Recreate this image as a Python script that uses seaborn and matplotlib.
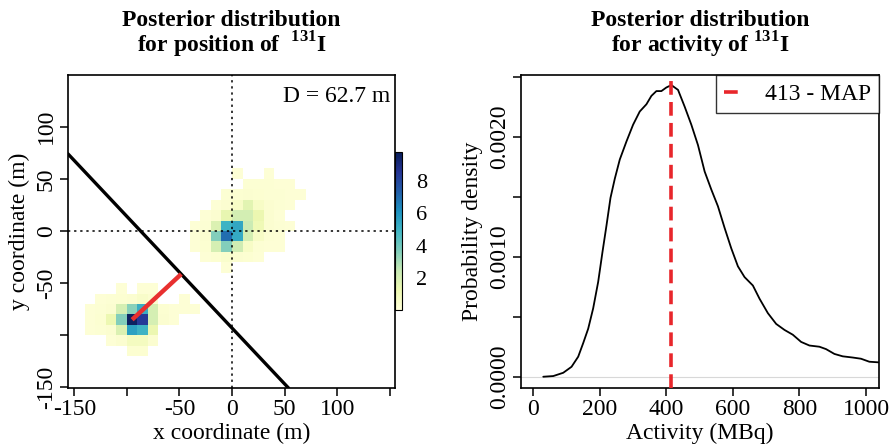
import numpy as np
import pandas as pd
import matplotlib
matplotlib.use("Agg")
import matplotlib.pyplot as plt
import seaborn as sns

# ---------------- data ----------------
cell_size = 10

# Posterior position histogram, cluster near origin (rows top -> bottom)
grid_a_x0 = -40      # lower x edge of first column
grid_a_ytop = 50     # lower y edge of top row
grid_a = [
    [0.0, 0.0, 0.0, 0.0, 0.15, 0.0, 0.0, 0.15, 0.0, 0.0, 0.0],
    [0.0, 0.0, 0.0, 0.0, 0.0, 0.2, 0.2, 0.2, 0.15, 0.15, 0.0],
    [0.0, 0.0, 0.0, 0.2, 0.25, 0.3, 0.25, 0.2, 0.2, 0.15, 0.15],
    [0.0, 0.0, 0.15, 0.3, 0.6, 1.6, 0.6, 0.3, 0.2, 0.15, 0.0],
    [0.0, 0.15, 0.3, 1.4, 2.1, 2.1, 1.3, 0.3, 0.15, 0.0, 0.0],
    [0.15, 0.2, 1.8, 5.0, 5.4, 2.3, 1.1, 0.3, 0.2, 0.15, 0.0],
    [0.15, 0.3, 3.6, 7.0, 5.3, 2.1, 0.6, 0.2, 0.15, 0.0, 0.0],
    [0.15, 0.25, 2.0, 3.6, 2.2, 0.6, 0.2, 0.15, 0.15, 0.0, 0.0],
    [0.0, 0.15, 0.25, 0.4, 0.3, 0.25, 0.15, 0.0, 0.0, 0.0, 0.0],
    [0.0, 0.0, 0.0, 0.15, 0.0, 0.0, 0.0, 0.0, 0.0, 0.0, 0.0],
]

# Posterior position histogram, lower-left cluster (rows top -> bottom)
grid_b_x0 = -140
grid_b_ytop = -60
grid_b = [
    [0.0, 0.0, 0.0, 0.15, 0.0, 0.15, 0.15, 0.0, 0.0, 0.0, 0.0],
    [0.0, 0.15, 0.2, 0.25, 0.3, 0.5, 0.3, 0.0, 0.0, 0.15, 0.0],
    [0.15, 0.2, 0.3, 2.0, 3.5, 5.2, 2.0, 0.25, 0.15, 0.15, 0.15],
    [0.15, 0.25, 1.2, 3.6, 9.6, 8.4, 2.0, 0.3, 0.15, 0.0, 0.0],
    [0.15, 0.2, 0.3, 1.8, 5.6, 5.0, 1.3, 0.0, 0.0, 0.0, 0.0],
    [0.0, 0.0, 0.15, 0.3, 0.8, 0.8, 0.3, 0.0, 0.0, 0.0, 0.0],
    [0.0, 0.0, 0.0, 0.0, 0.25, 0.25, 0.0, 0.0, 0.0, 0.0, 0.0],
]

colorbar_max = 9.8
colorbar_ticks = [2, 4, 6, 8]

# boundary line y = slope * x + intercept, MAP position, distance label
boundary_slope = -1.07
boundary_intercept = -93.0
map_position = (-95.0, -85.0)
distance_label = "D = 62.7 m"

x_ticks_pos = [-150, -100, -50, 0, 50, 100, 150]
x_tick_labels_pos = ["-150", "", "-50", "0", "50", "100", ""]
y_ticks_pos = [-150, -100, -50, 0, 50, 100]
y_tick_labels_pos = ["-150", "", "-50", "0", "50", "100"]

# Activity posterior density
activity_mbq = [30, 60, 90, 115, 135, 150, 165, 180, 195, 208, 220, 232, 245,
                260, 280, 300, 320, 340, 355, 370, 385, 400, 415, 435, 455,
                475, 495, 515, 535, 555, 575, 595, 615, 635, 660, 680, 705,
                730, 755, 780, 805, 830, 860, 880, 905, 930, 960, 985, 1010,
                1037, 1060]
density = [0.0, 0.0000056, 0.000033, 0.000083, 0.000167, 0.00028, 0.00040,
           0.00057, 0.00079, 0.00104, 0.00126, 0.00149, 0.00165, 0.00181,
           0.00196, 0.00210, 0.00221, 0.00227, 0.00234, 0.00238, 0.00238,
           0.00241, 0.00243, 0.00239, 0.00225, 0.00210, 0.00193, 0.00171,
           0.00156, 0.00142, 0.00124, 0.00107, 0.00092, 0.00083, 0.00076,
           0.00065, 0.00053, 0.00044, 0.00039, 0.00035, 0.00029, 0.00026,
           0.00025, 0.00023, 0.00019, 0.00017, 0.00016, 0.00015, 0.000125,
           0.00012, 0.000115]
map_activity = 413
act_x_ticks = [0, 200, 400, 600, 800, 1000]
dens_ticks = [0.0, 0.0005, 0.0010, 0.0015, 0.0020, 0.0025]
dens_tick_labels = ["0.0000", "", "0.0010", "", "0.0020", ""]

# ---------------- style ----------------
sns.set_style("ticks")
plt.rcParams["font.family"] = ["Liberation Serif", "DejaVu Serif"]
plt.rcParams["mathtext.fontset"] = "custom"
plt.rcParams["mathtext.rm"] = "Liberation Serif"
plt.rcParams["mathtext.bf"] = "Liberation Serif:bold"
plt.rcParams["text.color"] = "black"
plt.rcParams["axes.labelcolor"] = "black"
plt.rcParams["xtick.color"] = "black"
plt.rcParams["ytick.color"] = "black"
FS = 17

def grid_records(grid, x0, ytop):
    recs = []
    for i, row in enumerate(grid):
        for j, v in enumerate(row):
            if v > 0:
                recs.append((x0 + cell_size * j + cell_size / 2,
                             ytop - cell_size * i + cell_size / 2, v))
    return recs

cells = pd.DataFrame(grid_records(grid_a, grid_a_x0, grid_a_ytop)
                     + grid_records(grid_b, grid_b_x0, grid_b_ytop),
                     columns=["x", "y", "w"])

fig = plt.figure(figsize=(8.93, 4.48), dpi=100)
ax1 = fig.add_axes([0.0761, 0.1339, 0.3662, 0.6987])
cax = fig.add_axes([0.4423, 0.308, 0.0078, 0.3527])
ax2 = fig.add_axes([0.5834, 0.1339, 0.4009, 0.6987])

# ---- left panel ----
sns.histplot(data=cells, x="x", y="y", weights="w", binwidth=cell_size,
             binrange=((-150, 150), (-150, 150)), cmap="YlGnBu",
             vmin=0, vmax=colorbar_max, cbar=True, cbar_ax=cax, ax=ax1)
ax1.axvline(0, color="black", lw=1.1, ls=(0, (1.5, 2.5)), zorder=3)
ax1.axhline(0, color="black", lw=1.1, ls=(0, (1.5, 2.5)), zorder=3)
ax1.axline((0, boundary_intercept), slope=boundary_slope, color="black",
           lw=2.4, zorder=4)
px, py = map_position
m, b = boundary_slope, boundary_intercept
fx = (px + m * (py - b)) / (1 + m * m)
fy = m * fx + b
ax1.plot([px, fx], [py, fy], color="#e8302f", lw=3.2, solid_capstyle="butt", zorder=5)
ax1.text(0.985, 0.965, distance_label, transform=ax1.transAxes, ha="right",
         va="top", fontsize=FS)
ax1.set_xlim(-156, 155)
ax1.set_ylim(-150.5, 149.5)
ax1.set_xticks(x_ticks_pos)
ax1.set_xticklabels(x_tick_labels_pos, fontsize=FS)
ax1.set_yticks(y_ticks_pos)
ax1.set_yticklabels(y_tick_labels_pos, fontsize=FS, rotation=90, va="center")
ax1.set_xlabel("x coordinate (m)", fontsize=FS, labelpad=2)
ax1.set_ylabel("y coordinate (m)", fontsize=FS, labelpad=4)
ax1.set_title("Posterior distribution\nfor position of  $^{\\mathbf{131}}$I",
              fontsize=FS, fontweight="bold", pad=16, linespacing=0.95)

cax.set_yticks(colorbar_ticks)
cax.tick_params(labelsize=FS - 1, length=0, pad=10, colors="black")
for s in cax.spines.values():
    s.set_linewidth(0.8)
    s.set_color("black")

# ---- right panel ----
ax2.axhline(0, color="#d8d8d8", lw=0.8, zorder=1)
sns.lineplot(x=activity_mbq, y=density, color="black", lw=1.3, ax=ax2)
ax2.axvline(map_activity, color="#e8262b", lw=2.6, ls=(0, (3.8, 2.0)),
            label=f"{map_activity} - MAP", zorder=4)
leg = ax2.legend(loc="upper right", frameon=True, fancybox=False,
                 edgecolor="black", borderaxespad=0, handlelength=0.8,
                 handletextpad=0.9, borderpad=0.35, fontsize=FS)
leg.get_frame().set_linewidth(1.0)
ax2.set_xlim(-37, 1039)
ax2.set_ylim(-0.000094, 0.002514)
ax2.set_xticks(act_x_ticks)
ax2.set_xticklabels([str(v) for v in act_x_ticks], fontsize=FS)
ax2.set_yticks(dens_ticks)
ax2.set_yticklabels(dens_tick_labels, fontsize=FS, rotation=90, va="center")
ax2.set_xlabel("Activity (MBq)", fontsize=FS, labelpad=2)
ax2.set_ylabel("Probability density", fontsize=FS, labelpad=4)
ax2.set_title("Posterior distribution\nfor activity of $^{\\mathbf{131}}$I",
              fontsize=FS, fontweight="bold", pad=16, linespacing=0.95)

for ax in (ax1, ax2):
    for s in ax.spines.values():
        s.set_visible(True)
        s.set_linewidth(1.2)
        s.set_color("black")
    ax.tick_params(direction="out", length=6, width=1.1, color="black", pad=2)
    ax.grid(False)

fig.savefig("out.png", dpi=100)
